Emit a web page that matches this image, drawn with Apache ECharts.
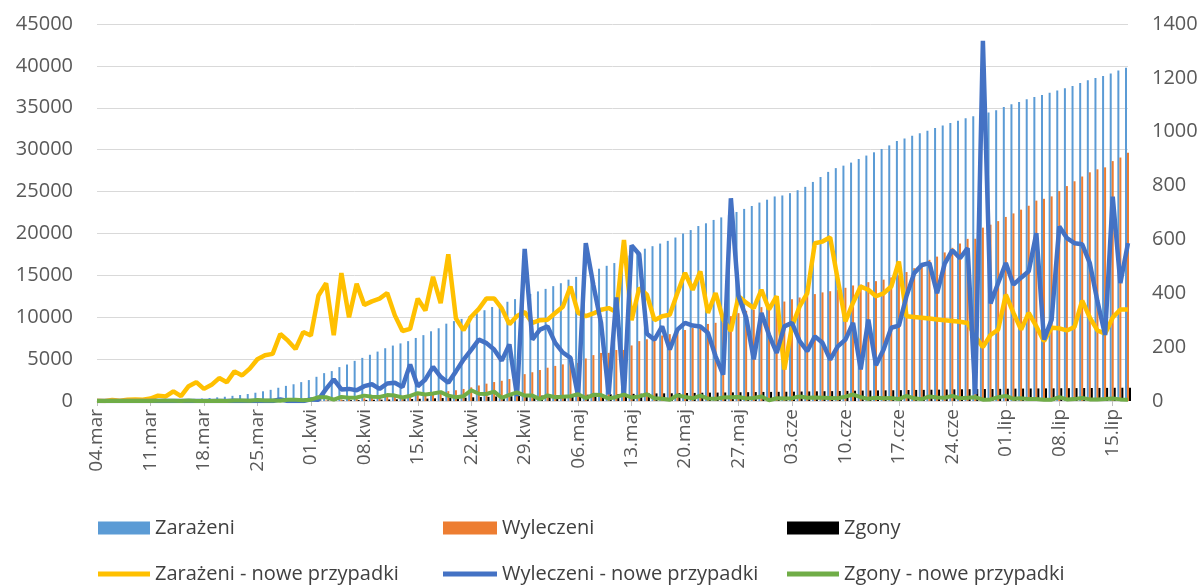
<!DOCTYPE html>
<html>
<head>
<meta charset="utf-8">
<script src="https://cdn.jsdelivr.net/npm/echarts/dist/echarts.min.js"></script>
<style>
  html, body { margin: 0; padding: 0; background: #fff; }
  #charts { width: 1204px; height: 586px; }
</style>
</head>
<body>
<div id="charts"></div>
<script>
// dni 04.03 - 17.07
var dates = [
  '04.mar','05.mar','06.mar','07.mar','08.mar','09.mar','10.mar','11.mar','12.mar','13.mar','14.mar','15.mar','16.mar','17.mar',
  '18.mar','19.mar','20.mar','21.mar','22.mar','23.mar','24.mar','25.mar','26.mar','27.mar','28.mar','29.mar','30.mar','31.mar',
  '01.kwi','02.kwi','03.kwi','04.kwi','05.kwi','06.kwi','07.kwi','08.kwi','09.kwi','10.kwi','11.kwi','12.kwi','13.kwi','14.kwi','15.kwi',
  '16.kwi','17.kwi','18.kwi','19.kwi','20.kwi','21.kwi','22.kwi','23.kwi','24.kwi','25.kwi','26.kwi','27.kwi','28.kwi','29.kwi','30.kwi',
  '01.maj','02.maj','03.maj','04.maj','05.maj','06.maj','07.maj','08.maj','09.maj','10.maj','11.maj','12.maj','13.maj','14.maj','15.maj',
  '16.maj','17.maj','18.maj','19.maj','20.maj','21.maj','22.maj','23.maj','24.maj','25.maj','26.maj','27.maj','28.maj','29.maj','30.maj','31.maj',
  '01.cze','02.cze','03.cze','04.cze','05.cze','06.cze','07.cze','08.cze','09.cze','10.cze','11.cze','12.cze','13.cze','14.cze','15.cze',
  '16.cze','17.cze','18.cze','19.cze','20.cze','21.cze','22.cze','23.cze','24.cze','25.cze','26.cze','27.cze','28.cze','29.cze','30.cze',
  '01.lip','02.lip','03.lip','04.lip','05.lip','06.lip','07.lip','08.lip','09.lip','10.lip','11.lip','12.lip','13.lip','14.lip','15.lip','16.lip','17.lip'
];

// slupki (os lewa)
var zarazeni = [
  1,1,5,6,11,17,22,31,51,68,
  104,122,177,247,292,352,437,507,617,712,
  832,987,1157,1332,1581,1805,1998,2254,2497,2889,
  3326,3570,4045,4356,4791,5148,5518,5898,6299,6617,
  6877,7145,7525,7861,8322,8685,9230,9536,9799,10112,
  10454,10835,11216,11560,11845,12161,12491,12781,13081,13383,
  13710,14060,14485,14812,15127,15452,15791,16136,16466,17064,
  17364,17784,18179,18479,18794,19114,19515,19991,20404,20885,
  21212,21613,21915,22175,22564,22929,23274,23687,24027,24416,
  24533,24810,25161,25561,26147,26739,27347,27797,28093,28458,
  28883,29296,29685,30085,30510,31028,31343,31655,31964,32270,
  32573,32873,33170,33464,33754,33994,34194,34439,34704,35099,
  35426,35691,36018,36295,36517,36789,37059,37321,37596,37969,
  38279,38541,38791,39101,39441,39781
];
var wyleczeni = [
  0,0,0,0,0,0,0,0,0,0,
  0,0,0,0,0,0,0,0,1,1,
  1,1,1,1,7,7,7,7,13,18,
  63,143,186,231,271,326,388,433,498,566,
  618,754,809,889,1016,1106,1174,1284,1438,1628,
  1856,2071,2262,2412,2622,2640,3205,3433,3698,3975,
  4191,4371,4531,4540,5077,5478,5739,5745,6091,6095,
  6631,7147,7368,7567,7815,7977,8213,8474,8725,8973,
  9197,9334,9403,10127,10488,10769,10895,11206,11439,11606,
  11871,12149,12359,12532,12760,12964,13106,13297,13513,13791,
  13896,14186,14307,14486,14746,15014,15392,15855,16348,16848,
  17236,17734,18282,18800,19356,19369,20695,21045,21471,21971,
  22391,22837,23307,23918,24134,24424,25060,25653,26227,26797,
  27297,27655,27888,28635,29061,29635
];
var zgony = [
  0,0,0,0,0,0,0,0,1,2,
  3,3,5,5,5,5,6,6,8,10,
  11,15,17,19,20,25,30,33,38,52,
  66,71,86,98,111,131,147,162,184,204,
  217,236,265,289,317,350,370,384,402,442,
  469,495,530,542,565,597,617,637,644,665,
  679,695,713,738,749,772,794,803,818,842,
  855,872,897,907,915,920,941,956,966,986,
  995,1003,1016,1030,1045,1054,1065,1082,1085,1095,
  1104,1114,1131,1143,1156,1168,1179,1189,1205,1229,
  1243,1251,1263,1273,1284,1291,1310,1320,1327,1344,
  1357,1369,1388,1398,1410,1424,1429,1435,1449,1468,
  1476,1486,1493,1500,1505,1510,1524,1530,1537,1548,
  1554,1560,1567,1576,1582,1587
];

// linie (os prawa)
var zarazeniNowe = [
  1,0,4,1,5,6,5,9,20,17,
  36,18,55,70,45,60,85,70,110,95,
  120,155,170,175,249,224,193,256,243,392,
  437,244,475,311,435,357,370,380,401,318,
  260,268,380,336,461,363,545,306,263,313,
  342,381,381,344,285,316,330,290,300,302,
  327,350,425,327,315,325,339,345,330,598,
  300,420,395,300,315,320,401,476,413,481,
  327,401,302,260,389,365,345,413,340,389,
  117,277,351,400,586,592,608,450,296,365,
  425,413,389,400,425,518,315,312,309,306,
  303,300,297,294,290,240,200,245,265,395,
  327,265,327,277,222,272,270,262,275,373,
  310,262,250,310,340,340
];
var wyleczeniNowe = [
  0,0,0,0,0,0,0,0,0,0,
  0,0,0,0,0,0,0,0,1,0,
  0,0,0,0,6,0,0,0,6,5,
  45,80,43,45,40,55,62,45,65,68,
  52,136,55,80,127,90,68,110,154,190,
  228,215,191,150,210,18,565,228,265,277,
  216,180,160,18,586,430,290,25,385,20,
  578,545,250,228,277,191,265,290,280,277,
  253,166,98,753,390,310,155,327,245,179,
  277,290,222,185,240,216,154,203,228,290,
  117,302,133,191,272,280,390,475,505,512,
  400,510,560,530,568,25,1338,362,438,512,
  432,458,482,623,228,302,648,605,586,582,
  512,370,245,759,438,586
];
var zgonyNowe = [
  0,0,0,0,0,0,0,0,1,1,
  1,0,2,0,0,0,1,0,2,2,
  1,4,2,2,1,5,5,3,5,14,
  14,5,15,12,13,20,16,15,22,20,
  13,19,29,24,28,33,20,14,18,40,
  27,26,35,12,23,32,20,20,7,21,
  14,16,18,25,11,23,22,9,15,24,
  13,17,25,10,8,5,21,15,10,20,
  9,8,13,14,15,9,11,17,3,10,
  9,10,17,12,13,12,11,10,16,24,
  14,8,12,10,11,7,19,10,7,17,
  13,12,19,10,12,14,5,6,14,19,
  8,10,7,7,5,5,14,6,7,11,
  6,6,7,9,6,5
];

var chartDom = document.getElementById('charts');
var myChart = echarts.init(chartDom);
var font = 'Open Sans';
var legendText = { fontSize: 20, color: '#404040', fontFamily: font };
var plain = function (v) { return String(v); };

var option = {
    animation: false,
    textStyle: { fontFamily: font },
    grid: { left: 97, right: 76, top: 24, bottom: 185 },
    legend: [
        { data: [{ name: 'Zarażeni', icon: 'rect' }], left: 98, top: 518, itemWidth: 52, itemHeight: 13, padding: 0, selectedMode: false, textStyle: legendText },
        { data: [{ name: 'Wyleczeni', icon: 'rect' }], left: 443, top: 518, itemWidth: 54, itemHeight: 13, padding: 0, selectedMode: false, textStyle: legendText },
        { data: [{ name: 'Zgony', icon: 'rect' }], left: 787, top: 518, itemWidth: 52, itemHeight: 13, padding: 0, selectedMode: false, textStyle: legendText },
        { data: [{ name: 'Zarażeni - nowe przypadki', icon: 'rect' }], left: 98, top: 564, itemWidth: 52, itemHeight: 5, padding: 0, selectedMode: false, textStyle: legendText },
        { data: [{ name: 'Wyleczeni - nowe przypadki', icon: 'rect' }], left: 443, top: 564, itemWidth: 54, itemHeight: 5, padding: 0, selectedMode: false, textStyle: legendText },
        { data: [{ name: 'Zgony - nowe przypadki', icon: 'rect' }], left: 787, top: 564, itemWidth: 52, itemHeight: 5, padding: 0, selectedMode: false, textStyle: legendText }
    ],
    xAxis: {
        type: 'category',
        data: dates,
        boundaryGap: false,
        axisLine: { lineStyle: { color: '#d9d9d9' } },
        axisTick: { interval: 6, length: 5, lineStyle: { color: '#bfbfbf' } },
        axisLabel: { interval: 6, rotate: 90, margin: 8, fontSize: 19, color: '#595959' }
    },
    yAxis: [
        {
            type: 'value', min: 0, max: 45000, interval: 5000,
            axisLine: { show: false }, axisTick: { show: false },
            axisLabel: { margin: 24, fontSize: 20, color: '#595959', formatter: plain },
            splitLine: { lineStyle: { color: '#d9d9d9' } }
        },
        {
            type: 'value', min: 0, max: 1400, interval: 200,
            axisLine: { show: false }, axisTick: { show: false },
            axisLabel: { margin: 24, fontSize: 20, color: '#595959', formatter: plain },
            splitLine: { show: false }
        }
    ],
    series: [
        { name: 'Zarażeni', type: 'bar', data: zarazeni, barWidth: 2, barGap: '0%', itemStyle: { color: '#5b9bd5' } },
        { name: 'Wyleczeni', type: 'bar', data: wyleczeni, barWidth: 2, barGap: '0%', itemStyle: { color: '#ed7d31' } },
        { name: 'Zgony', type: 'bar', data: zgony, barWidth: 2, barGap: '0%', itemStyle: { color: '#000000' } },
        { name: 'Zarażeni - nowe przypadki', type: 'line', yAxisIndex: 1, data: zarazeniNowe, symbol: 'none',
          lineStyle: { color: '#ffc000', width: 4.5 }, itemStyle: { color: '#ffc000' } },
        { name: 'Wyleczeni - nowe przypadki', type: 'line', yAxisIndex: 1, data: wyleczeniNowe, symbol: 'none',
          lineStyle: { color: '#4472c4', width: 4.5 }, itemStyle: { color: '#4472c4' } },
        { name: 'Zgony - nowe przypadki', type: 'line', yAxisIndex: 1, data: zgonyNowe, symbol: 'none',
          lineStyle: { color: '#70ad47', width: 4 }, itemStyle: { color: '#70ad47' } }
    ]
};
option && myChart.setOption(option);
</script>
</body>
</html>
